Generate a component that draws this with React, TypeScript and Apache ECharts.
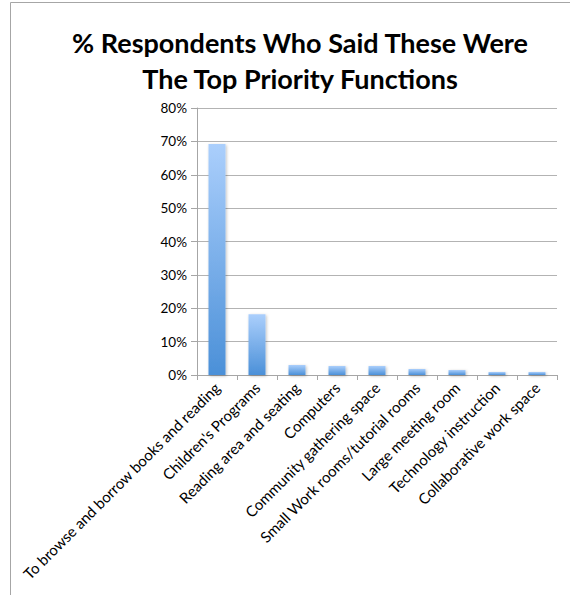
import React, { useEffect, useRef } from "react";
import * as echarts from "echarts";

const categories = [
  "To browse and borrow books and reading",
  "Children's Programs",
  "Reading area and seating",
  "Computers",
  "Community gathering space",
  "Small Work rooms/tutorial rooms",
  "Large meeting room",
  "Technology instruction",
  "Collaborative work space",
];
const values = [69.2, 18.2, 3.0, 2.7, 2.7, 1.8, 1.5, 0.9, 0.9];
const titleLines = ["% Respondents Who Said These Were", "The Top Priority Functions"];

export default function App() {
  const ref = useRef<HTMLDivElement>(null);
  useEffect(() => {
    if (!ref.current) return;
    const chart = echarts.init(ref.current, null, { renderer: "svg" });
    chart.setOption({
      animation: false,
      backgroundColor: "#ffffff",
      title: {
        text: titleLines.join("\n"),
        left: 295,
        textAlign: "center",
        top: 19,
        textStyle: {
          fontFamily: "Lato",
          fontWeight: "bold",
          fontSize: 27,
          lineHeight: 36,
          color: "#000000",
        },
      },
      graphic: [
        { type: "line", shape: { x1: 10.5, y1: 2.5, x2: 570, y2: 2.5 }, style: { stroke: "#a6a6a6", lineWidth: 1 } },
        { type: "line", shape: { x1: 10.5, y1: 2.5, x2: 10.5, y2: 595 }, style: { stroke: "#a6a6a6", lineWidth: 1 } },
      ],
      grid: { left: 197, right: 13, top: 108, bottom: 220, containLabel: false },
      xAxis: {
        type: "category",
        data: categories,
        axisLine: { lineStyle: { color: "#a6a6a6", width: 1 } },
        axisTick: { show: true, length: 5, lineStyle: { color: "#a6a6a6" } },
        axisLabel: {
          rotate: 45,
          interval: 0,
          margin: 10,
          fontFamily: "Lato",
          fontSize: 15,
          color: "#000000",
        },
      },
      yAxis: {
        type: "value",
        min: 0,
        max: 80,
        interval: 10,
        axisLine: { show: true, lineStyle: { color: "#a6a6a6", width: 1 } },
        axisTick: { show: true, length: 6, lineStyle: { color: "#a6a6a6" } },
        splitLine: { lineStyle: { color: "#b3b3b3", width: 1 } },
        axisLabel: {
          formatter: "{value}%",
          margin: 10,
          fontFamily: "Lato",
          fontSize: 13.5,
          color: "#000000",
        },
      },
      series: [
        {
          type: "bar",
          data: values,
          barWidth: 17,
          itemStyle: {
            color: new echarts.graphic.LinearGradient(0, 0, 0, 1, [
              { offset: 0, color: "#abcffc" },
              { offset: 1, color: "#4b90d8" },
            ]),
            shadowColor: "rgba(0,0,0,0.25)",
            shadowBlur: 3,
            shadowOffsetX: 1,
            shadowOffsetY: 1,
          },
        },
      ],
    });
    return () => chart.dispose();
  }, []);
  return (
    <div
      ref={ref}
      style={{ position: "fixed", left: 0, top: 0, width: 570, height: 595 }}
    />
  );
}
